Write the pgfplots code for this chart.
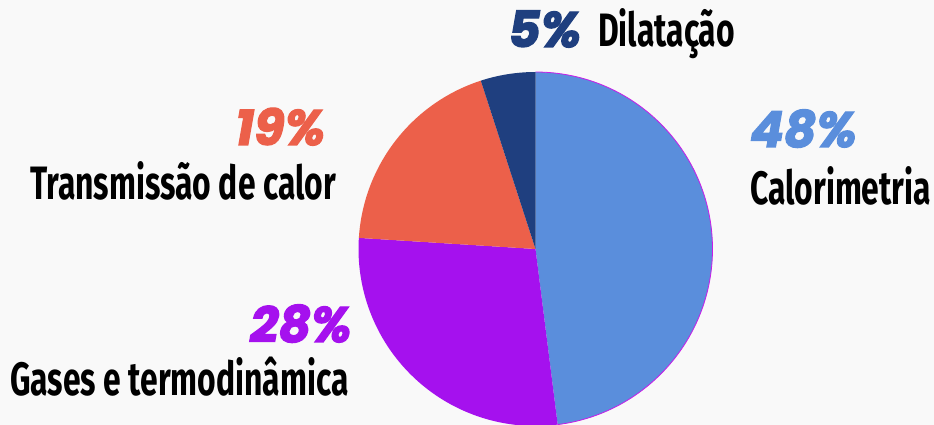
\documentclass[border=0pt]{standalone}
\usepackage{pgfplots}
\pgfplotsset{compat=1.18}
\usepackage{pgfplotstable}
\usepackage{fontspec}
\setmainfont{Fira Sans}
\newfontfamily\labfont{Fira Sans}[FakeStretch=0.68]
\newfontfamily\pctfont{Poppins}[BoldItalicFeatures={FakeBold=2.5}]
\definecolor{cCal}{HTML}{5A8EDC}
\definecolor{cGas}{HTML}{A511EE}
\definecolor{cTra}{HTML}{EC604A}
\definecolor{cDil}{HTML}{1F3F7F}
\definecolor{cEdge}{HTML}{C81CE8}
\definecolor{bg}{HTML}{F9F9F9}
\pgfplotstableread{
label pct col
Calorimetria 48 cCal
Gases 28 cGas
Transmissao 19 cTra
Dilatacao 5 cDil
}\piedata
\begin{document}
\begin{tikzpicture}
\begin{axis}[at={(0,0)}, anchor=south west, scale only axis,
  width=934bp, height=425bp, xmin=0, xmax=934, ymin=0, ymax=425,
  hide axis, clip=true]
\pgfplotsextra{
  \fill[bg] (axis cs:0,0) rectangle (axis cs:934,425);
  \pgfplotstablegetrowsof{\piedata}
  \pgfmathtruncatemacro\N{\pgfplotsretval-1}
  \gdef\cum{0}
  \foreach \i in {0,...,\N}{
    \pgfplotstablegetelem{\i}{pct}\of\piedata \pgfmathsetmacro\v{\pgfplotsretval}
    \pgfplotstablegetelem{\i}{col}\of\piedata \edef\c{\pgfplotsretval}
    \pgfmathsetmacro\a{90-3.6*\cum}
    \pgfmathsetmacro\b{90-3.6*(\cum+\v)}
    \fill[\c] (axis cs:535.5,176) -- ++(\a:177bp) arc[start angle=\a, end angle=\b, radius=177bp] -- cycle;
    \ifnum\i=0
      \draw[cEdge, line width=0.8bp] (axis cs:535.5,176) ++(\a:177bp) arc[start angle=\a, end angle=\b, radius=177bp];
    \fi
    \pgfmathsetmacro\n{\cum+\v}\xdef\cum{\n}
  }
}
\tikzset{pct/.style={anchor=base west, inner sep=0pt, font=\pctfont\bfseries\itshape\fontsize{50}{52}\selectfont},
         lab/.style={anchor=base west, inner sep=0pt, text=black, font=\labfont\bfseries\fontsize{47}{50}\selectfont}}
\node[pct, text=cDil] at (axis cs:508,378) {5\%};
\node[lab] at (axis cs:598,378) {Dilatação};
\node[pct, text=cTra] at (axis cs:235,280) {19\%};
\node[lab] at (axis cs:30,225) {Transmissão de calor};
\node[pct, text=cGas] at (axis cs:250,83) {28\%};
\node[lab] at (axis cs:10,30) {Gases e termodinâmica};
\node[pct, text=cCal] at (axis cs:750,278) {48\%};
\node[lab] at (axis cs:750,220) {Calorimetria};
\end{axis}
\pgfresetboundingbox
\useasboundingbox (0,0) rectangle (934bp,425bp);
\end{tikzpicture}
\end{document}
